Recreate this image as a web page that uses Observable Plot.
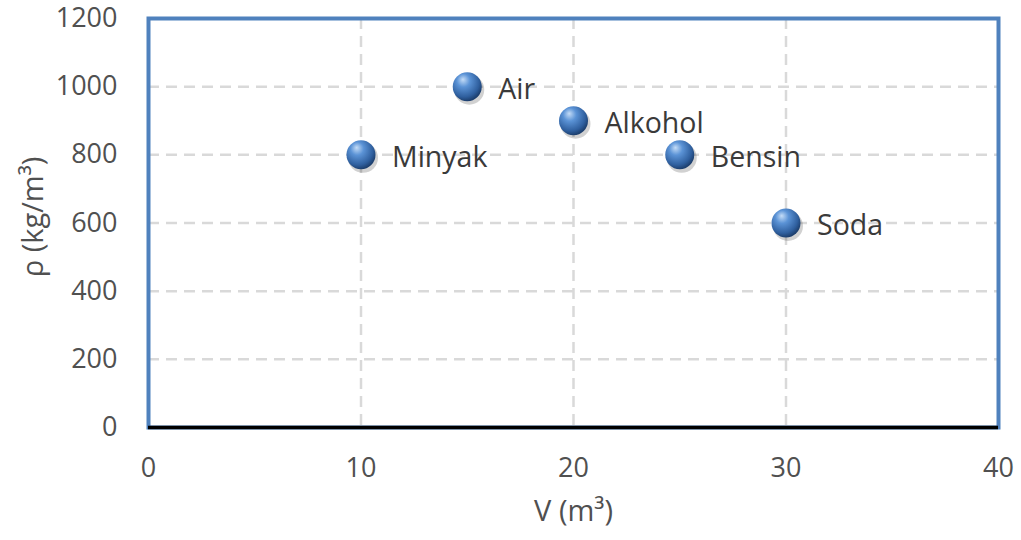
<!DOCTYPE html>
<html><head><meta charset="utf-8">
<script src="https://cdn.jsdelivr.net/npm/d3@7"></script>
<script src="https://cdn.jsdelivr.net/npm/@observablehq/plot@0.6"></script>
<style>
body{margin:0;background:#fff;}
#chart svg{display:block;}
</style>
</head><body><div id="chart"></div>
<script>
const names = ["Minyak","Air","Alkohol","Bensin","Soda"];
const volumes = [10,15,20,25,30];
const densities = [800,1000,900,800,600];
const xTicks = [0,10,20,30,40];
const yTicks = [0,200,400,600,800,1000,1200];
const data = names.map((n,i)=>({name:n, v:volumes[i], rho:densities[i]}));

const font = "'Open Sans', sans-serif";
const txt = "#505050";
const plot = Plot.plot({
  width: 1021, height: 540,
  marginLeft: 148, marginRight: 23, marginTop: 18, marginBottom: 113,
  style: {fontFamily: font, fontSize: "28px", color: txt, background: "#fff"},
  x: {domain: [0,40], ticks: xTicks},
  y: {domain: [0,1200], ticks: yTicks},
  marks: [
    Plot.gridX(xTicks.slice(1,-1), {stroke:"#d9d9d9", strokeOpacity:1, strokeWidth:2.5, strokeDasharray:"11,7"}),
    Plot.gridY(yTicks.slice(1,-1), {stroke:"#d9d9d9", strokeOpacity:1, strokeWidth:2.5, strokeDasharray:"11,7"}),
    Plot.frame({stroke:"#4f81bd", strokeWidth:4}),
    Plot.ruleY([0], {stroke:"#000", strokeWidth:3.5}),
    Plot.axisX({ticks:xTicks, tickSize:0, tickPadding:30, fontSize:27, label:null, tickFormat:d=>String(d)}),
    Plot.axisY({ticks:yTicks, tickSize:0, tickPadding:31, fontSize:27, label:null, tickFormat:d=>String(d)}),
    Plot.text(["V (m³)"], {frameAnchor:"bottom", textAnchor:"middle", dy:93, fontSize:29, fill:txt}),
    Plot.text(["ρ (kg/m³)"], {frameAnchor:"left", textAnchor:"middle", dy:-6, dx:-115, rotate:-90, fontSize:29, fill:txt}),
    Plot.dot(data, {x:"v", y:"rho", r:15, dx:2, dy:3, fill:"#000", fillOpacity:0.18, stroke:"none"}),
    Plot.dot(data, {x:"v", y:"rho", r:14.5, fill:"url(#sph)", stroke:"none"}),
    Plot.text(data, {x:"v", y:"rho", text:"name", dx:31, dy:3, textAnchor:"start", fontSize:28.5, fill:"#3a3a3a"})
  ]
});
const svg = d3.select(plot);
const defs = svg.insert("defs", ":first-child");
const g = defs.append("radialGradient").attr("id","sph").attr("cx","0.4").attr("cy","0.35").attr("r","0.65").attr("fx","0.35").attr("fy","0.25");
g.append("stop").attr("offset","0").attr("stop-color","#c4dcf7");
g.append("stop").attr("offset","0.35").attr("stop-color","#5b93d6");
g.append("stop").attr("offset","0.8").attr("stop-color","#2f5f9e");
g.append("stop").attr("offset","1").attr("stop-color","#1d3f6e");
document.getElementById("chart").append(plot);
</script>
</body></html>
